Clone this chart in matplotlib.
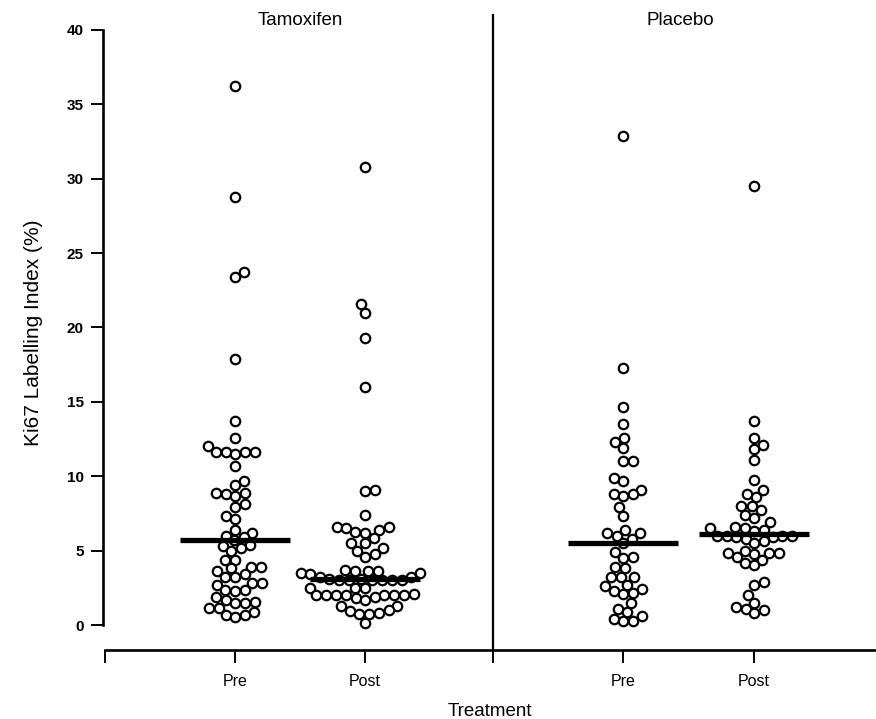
import numpy as np
import matplotlib
matplotlib.use("Agg")
import matplotlib.pyplot as plt

plt.rcParams['font.family'] = ['Liberation Sans', 'DejaVu Sans']

# values (Ki67 labelling index, %)
tam_pre = [36.2, 28.8, 23.7, 23.4, 17.9, 13.7, 12.6, 12.0, 11.6, 11.6, 11.6, 11.5, 11.6,
           10.7, 9.7, 9.4, 8.9, 8.8, 8.7, 8.9, 8.1, 7.9, 7.3, 7.1,
           6.4, 6.2, 6.0, 5.9, 5.7, 5.4, 5.3, 5.2, 5.0, 4.4, 4.4,
           3.9, 3.9, 3.8, 3.6, 3.4, 3.2, 3.2, 2.8, 2.8, 2.7, 2.35, 2.35, 2.3,
           1.9, 1.7, 1.55, 1.5, 1.5, 1.15, 1.15, 0.9, 0.7, 0.7, 0.55]
tam_post = [30.8, 21.6, 21.0, 19.3, 16.0, 9.1, 9.0, 7.4,
            6.6, 6.6, 6.5, 6.4, 6.25, 6.2, 5.85, 5.5, 5.5, 5.2, 5.0, 4.8, 4.6,
            3.7, 3.6, 3.6, 3.6, 3.5, 3.5, 3.4,
            3.2, 3.2, 3.1, 3.1, 3.0, 3.0, 3.0, 3.0, 3.0, 3.0,
            2.5, 2.5, 2.5,
            2.1, 2.0, 2.0, 2.0, 2.0, 2.0, 2.0, 2.0, 1.9, 1.8, 1.7,
            1.3, 1.3, 1.0, 0.95, 0.8, 0.75, 0.75, 0.15]
plac_pre = [32.9, 17.3, 14.65, 13.5, 12.6, 12.3, 11.9, 11.0, 11.0, 9.9, 9.7,
            9.1, 8.8, 8.8, 8.7, 7.9, 7.3, 6.4, 6.2, 6.2, 6.0, 5.8, 5.5,
            4.9, 4.6, 4.5, 3.9, 3.8, 3.2, 3.2, 3.2,
            2.7, 2.6, 2.4, 2.3, 2.15, 2.1, 1.5, 1.1, 0.9, 0.6, 0.4, 0.3, 0.3]
plac_post = [29.5, 13.7, 12.6, 12.1, 11.8, 11.1, 9.75, 9.1, 8.8, 8.6, 8.0, 8.0, 7.7,
             7.4, 7.2, 6.9, 6.6, 6.5, 6.5, 6.4, 6.3,
             6.0, 6.0, 6.0, 5.9, 5.9, 6.0, 5.8, 5.65, 5.5,
             5.0, 4.85, 4.85, 4.85, 4.8, 4.6, 4.4, 4.2, 4.0,
             2.9, 2.7, 2.0, 1.5, 1.2, 1.1, 1.0, 0.8]
medians = [5.7, 3.1, 5.5, 6.1]

groups = [tam_pre, tam_post, plac_pre, plac_post]
tick_labels = ['Pre', 'Post', 'Pre', 'Post']
panel_titles = ['Tamoxifen', 'Placebo']

# x axis is laid out in pixel-like units
centers = [235, 365, 623, 754]
divider_x = 493

fig = plt.figure(figsize=(8.76, 7.19), dpi=100)
ax = fig.add_axes([103 / 876, 1 - 650 / 719, 1 - 103 / 876, 635 / 719])
ax.set_xlim(103, 876)
ax.set_ylim(-1.68, 41.0)

# pixels per y unit, to lay the swarm out without overlaps
px_per_unit = (635 / 42.68)
dot = 9.6


def swarm(vals, center):
    vals = np.asarray(vals, dtype=float)
    xs = np.zeros(len(vals))
    placed = []
    flip = 1
    for i in np.argsort(vals):
        y = vals[i] * px_per_unit
        found = None
        for off in np.arange(0, 80, 0.5):
            for s in (flip, -flip):
                x = s * off
                if all((x - px) ** 2 + (y - py) ** 2 >= dot ** 2 for px, py in placed):
                    found = x
                    break
            if found is not None:
                break
        if found != 0:
            flip = -flip
        placed.append((found, y))
        xs[i] = center + found
    return xs


for vals, c, med in zip(groups, centers, medians):
    xs = swarm(vals, c)
    ax.plot(xs, vals, 'o', ms=6.8, mfc='white', mec='black', mew=1.6, clip_on=False, zorder=3)
    ax.plot([c - 55, c + 55], [med, med], color='black', lw=3.8, solid_capstyle='butt', zorder=4)

# divider between the two panels
ax.plot([divider_x, divider_x], [-1.68, 41.0], color='black', lw=1.6, clip_on=False)

ax.text(300, 41.2, panel_titles[0], ha='center', va='top', fontsize=13.5)
ax.text(680, 41.2, panel_titles[1], ha='center', va='top', fontsize=13.5)

for s in ['top', 'right']:
    ax.spines[s].set_visible(False)
ax.spines['left'].set_bounds(0, 40)
ax.spines['bottom'].set_bounds(105, 876)
ax.spines['left'].set_linewidth(1.9)
ax.spines['bottom'].set_linewidth(1.9)

ax.set_yticks(range(0, 41, 5))
ax.set_yticklabels([str(v) for v in range(0, 41, 5)], fontweight='bold', fontsize=11)
ax.tick_params(axis='y', length=9, width=1.4, pad=5)

ax.set_xticks([105] + centers[:2] + [divider_x] + centers[2:])
ax.set_xticklabels([''] + tick_labels[:2] + [''] + tick_labels[2:], fontsize=11.5)
ax.tick_params(axis='x', length=9, width=1.4, pad=8)

ax.set_ylabel('Ki67 Labelling Index (%)', fontsize=15, labelpad=17)
ax.set_xlabel('Treatment', fontsize=13.5, labelpad=10)

fig.savefig('out.png', dpi=100)
